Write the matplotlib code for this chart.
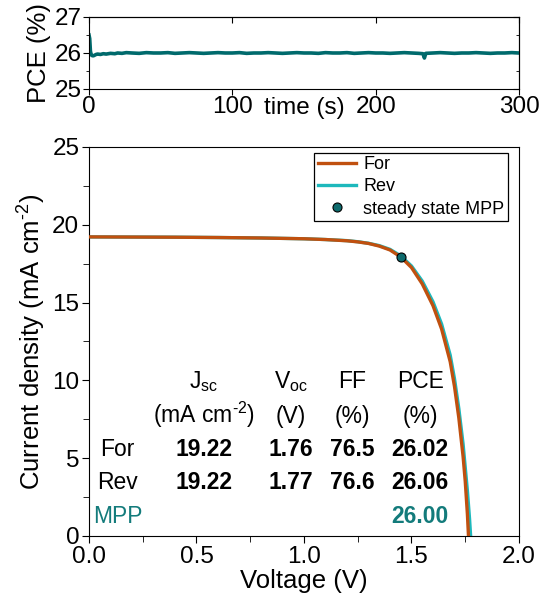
import numpy as np
import matplotlib.pyplot as plt
from matplotlib.lines import Line2D

plt.rcParams['font.family'] = ['Liberation Sans', 'DejaVu Sans']
plt.rcParams['mathtext.default'] = 'regular'

# steady state MPP tracking (top panel)
mpp_time = [0, 0.5, 1, 1.5, 2, 3, 4, 5, 6, 8, 10, 12, 15, 18, 20, 23, 26,
            30, 35, 40, 45, 50, 55, 60, 65, 70, 75, 80, 85, 90, 95, 100,
            105, 110, 115, 120, 125, 130, 135, 140, 145, 150, 155, 160, 165,
            170, 175, 180, 185, 190, 195, 200, 205, 210, 215, 220, 225, 230,
            233, 234, 235, 240, 245, 250, 255, 260, 265, 270, 275, 280, 285,
            290, 295, 300]
mpp_pce = [26.50, 26.40, 26.05, 25.96, 25.93, 25.92, 25.94, 25.96, 25.97, 25.96,
           25.98, 25.97, 25.99, 25.98, 26.00, 25.99, 26.01,
           26.00, 25.99, 26.01, 26.00, 26.00, 26.01, 25.99, 26.00, 26.01, 26.00,
           25.99, 26.00, 26.01, 26.00, 26.00,
           26.01, 25.99, 26.00, 26.00, 26.01, 26.00, 25.99, 26.00, 26.01, 26.00,
           26.00, 25.99, 26.01,
           26.00, 26.00, 26.01, 25.99, 26.00, 26.01, 26.00, 26.00, 25.99, 26.00,
           26.01, 26.00, 25.99,
           25.98, 25.86, 25.99, 26.00, 26.01, 26.00, 25.99, 26.00, 26.00, 26.01,
           26.00, 25.99, 26.00,
           26.00, 26.01, 26.00]

# J-V curves
volt_for = [0.0, 0.2, 0.4, 0.6, 0.8, 1.0, 1.1, 1.2, 1.25, 1.3, 1.35, 1.4, 1.45,
            1.5, 1.55, 1.6, 1.64, 1.68, 1.70, 1.72, 1.74, 1.75, 1.76, 1.765]
curr_for = [19.22, 19.21, 19.20, 19.18, 19.15, 19.10, 19.05, 18.97, 18.90, 18.80,
            18.63, 18.38, 17.93, 17.25, 16.20, 14.80, 13.30, 11.20, 9.60, 7.60,
            5.10, 3.50, 1.40, 0.0]
volt_rev = [0.0, 0.2, 0.4, 0.6, 0.8, 1.0, 1.1, 1.2, 1.25, 1.3, 1.35, 1.4, 1.45,
            1.5, 1.55, 1.6, 1.64, 1.68, 1.70, 1.72, 1.74, 1.76, 1.77, 1.775]
curr_rev = [19.22, 19.21, 19.20, 19.18, 19.15, 19.10, 19.05, 18.98, 18.91, 18.81,
            18.66, 18.42, 18.00, 17.35, 16.38, 15.05, 13.62, 11.62, 10.10, 8.20,
            5.90, 2.90, 1.10, 0.0]
mpp_v = 1.45
mpp_j = 17.93

# parameter table
col_heads = ['J$_{sc}$', 'V$_{oc}$', 'FF', 'PCE']
col_units = ['(mA cm$^{\u2010 2}$)', '(V)', '(%)', '(%)']
row_names = ['For', 'Rev']
row_values = [['19.22', '1.76', '76.5', '26.02'],
              ['19.22', '1.77', '76.6', '26.06']]
mpp_value = '26.00'

c_for = '#C0500F'
c_rev = '#1DB8BC'
c_mpp = '#0E6B6D'
c_teal_txt = '#137B7B'

fig = plt.figure(figsize=(5.39, 6.07), dpi=100)
ax1 = fig.add_axes([0.1651, 0.8534, 0.7978, 0.1186])
ax2 = fig.add_axes([0.1651, 0.1170, 0.7978, 0.6409])

fs = 17.5
lfs = 18.5

# top panel
ax1.plot(mpp_time, mpp_pce, color='#006A6C', lw=2.6)
ax1.set_xlim(0, 300)
ax1.set_ylim(25, 27)
ax1.set_xticks([0, 100, 200, 300])
ax1.set_yticks([25, 26, 27])
ax1.set_yticks([25.5, 26.5], minor=True)
ax1.tick_params(labelsize=fs, direction='out', length=4, pad=1)
ax1.tick_params(which='minor', direction='out', length=2.5)
ax1.set_ylabel('PCE (%)', fontsize=lfs, labelpad=3)
ax1.set_xlabel('time (s)', fontsize=fs, labelpad=-15)
sec_x = ax1.secondary_xaxis('top')
sec_x.set_xticks([0, 100, 200, 300])
sec_x.tick_params(direction='in', labeltop=False, length=4)
sec_y = ax1.secondary_yaxis('right')
sec_y.set_yticks([25, 26, 27])
sec_y.set_yticks([25.5, 26.5], minor=True)
sec_y.tick_params(direction='in', labelright=False, length=4)
sec_y.tick_params(which='minor', direction='in', length=2.5)

# bottom panel
ax2.plot(volt_rev, curr_rev, color=c_rev, lw=2.4, zorder=2)
ax2.plot(volt_for, curr_for, color=c_for, lw=2.4, zorder=3)
ax2.plot([mpp_v], [mpp_j], 'o', ms=6.5, mfc=c_mpp, mec='black', mew=0.8, zorder=4)
ax2.set_xlim(0, 2.0)
ax2.set_ylim(0, 25)
ax2.set_xticks(np.arange(0, 2.01, 0.5))
ax2.set_xticks(np.arange(0.25, 2.0, 0.5), minor=True)
ax2.set_yticks(np.arange(0, 26, 5))
ax2.set_yticks(np.arange(2.5, 25, 5), minor=True)
ax2.xaxis.set_major_formatter(plt.FormatStrFormatter('%.1f'))
ax2.tick_params(labelsize=fs, direction='out', length=5, pad=2)
ax2.tick_params(which='minor', direction='out', length=4)
ax2.set_xlabel('Voltage (V)', fontsize=lfs, labelpad=1)
ax2.set_ylabel('Current density (mA cm$^{\u2010 2}$)', fontsize=lfs, labelpad=3)

handles = [Line2D([], [], color=c_for, lw=2.4),
           Line2D([], [], color=c_rev, lw=2.4),
           Line2D([], [], ls='none', marker='o', ms=6.5, mfc=c_mpp, mec='black', mew=0.8)]
leg = ax2.legend(handles, ['For', 'Rev', 'steady state MPP'], loc='upper right',
                 bbox_to_anchor=(0.974, 0.985), borderaxespad=0, fontsize=13,
                 fancybox=False, edgecolor='black', framealpha=1,
                 handlelength=2.1, handletextpad=0.4, labelspacing=0.28,
                 borderpad=0.2)
leg.get_frame().set_linewidth(0.9)

# table
col_x = [0.267, 0.470, 0.612, 0.770]
tfs = 16.5
for x, h, u in zip(col_x, col_heads, col_units):
    ax2.text(x, 0.380, h, transform=ax2.transAxes, ha='center', va='baseline', fontsize=tfs)
    ax2.text(x, 0.290, u, transform=ax2.transAxes, ha='center', va='baseline', fontsize=tfs)
for y, name, vals in zip([0.2057, 0.121], row_names, row_values):
    ax2.text(0.067, y, name, transform=ax2.transAxes, ha='center', va='baseline', fontsize=tfs)
    for x, v in zip(col_x, vals):
        ax2.text(x, y, v, transform=ax2.transAxes, ha='center', va='baseline',
                 fontsize=tfs, fontweight='bold')
ax2.text(0.067, 0.0334, 'MPP', transform=ax2.transAxes, ha='center', va='baseline',
         fontsize=tfs, color=c_teal_txt)
ax2.text(col_x[3], 0.0334, mpp_value, transform=ax2.transAxes, ha='center', va='baseline',
         fontsize=tfs, fontweight='bold', color=c_teal_txt)

fig.savefig('out.png', dpi=100)
